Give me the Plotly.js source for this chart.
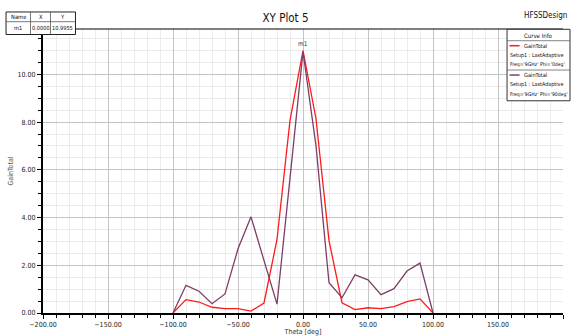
<!DOCTYPE html>
<html><head><meta charset="utf-8">
<script src="https://cdn.plot.ly/plotly-3.0.1.min.js"></script>
<style>html,body{margin:0;padding:0;background:#fff;}#chart{width:571px;height:336px;}</style>
</head><body><div id="chart"></div>
<script>
// ---- data ----
var theta = [-100,-90,-80,-70,-60,-50,-40,-30,-20,-10,0,10,20,30,40,50,60,70,80,90,100];
var gainPhi0 = [0,0.56,0.46,0.24,0.18,0.18,0.08,0.42,3.08,8.07,10.9955,8.14,3.03,0.43,0.14,0.22,0.18,0.27,0.48,0.59,0];
var gainPhi90 = [0,1.16,0.91,0.39,0.80,2.69,4.03,2.16,0.37,5.65,10.95,7.0,1.27,0.64,1.60,1.39,0.77,1.02,1.76,2.09,0];
var seriesNames = ["GainTotal","GainTotal"];
var seriesSetup = ["Setup1 : LastAdaptive","Setup1 : LastAdaptive"];
var seriesFreq = ["Freq='9GHz' Phi='0deg'","Freq='9GHz' Phi='90deg'"];
var seriesColors = ["#ff1a1a","#7d3f69"];
var markerName = "m1", markerX = 0.0000, markerY = 10.9955;
var tableHeader = ["Name","X","Y"];

// ---- layout helpers ----
var W=571,H=336, L=42.5, R=563, T=29, B=312.7;
function px(x){return (x-L)/(R-L);}
function py(y){return (B-y)/(B-T);}
var FONT = "Liberation Sans Narrow, Arial Narrow, DejaVu Sans Condensed, Liberation Sans, Arial, sans-serif";

var traces = [
  {x:theta,y:gainPhi0,type:'scatter',mode:'lines',name:seriesNames[0],line:{color:seriesColors[0],width:1.3},showlegend:false},
  {x:theta,y:gainPhi90,type:'scatter',mode:'lines',name:seriesNames[1],line:{color:seriesColors[1],width:1.3},showlegend:false}
];

var shapes = [], ann = [];
shapes.push({type:'line',xref:'paper',yref:'paper',x0:0,x1:1,y0:1,y1:1,line:{color:'#000',width:1}});
// marker table
var tx=[5.5,30,50,75], ty=[12,21.7,34.5];
shapes.push({type:'rect',xref:'paper',yref:'paper',x0:px(tx[0]),x1:px(tx[3]),y0:py(ty[0]),y1:py(ty[2]),line:{color:'#222',width:1},fillcolor:'#fff',layer:'above'});
shapes.push({type:'line',xref:'paper',yref:'paper',x0:px(tx[0]),x1:px(tx[3]),y0:py(ty[1]),y1:py(ty[1]),line:{color:'#555',width:0.8},layer:'above'});
[1,2].forEach(function(i){shapes.push({type:'line',xref:'paper',yref:'paper',x0:px(tx[i]),x1:px(tx[i]),y0:py(ty[0]),y1:py(ty[2]),line:{color:'#555',width:0.8},layer:'above'});});
var rowVals=[markerName, markerX.toFixed(4), markerY.toFixed(4)];
for(var i=0;i<3;i++){
  var cx=(tx[i]+tx[i+1])/2;
  ann.push({xref:'paper',yref:'paper',x:px(cx),y:py((ty[0]+ty[1])/2),text:tableHeader[i],showarrow:false,font:{family:FONT,size:5.8,color:'#111'},xanchor:'center',yanchor:'middle'});
  ann.push({xref:'paper',yref:'paper',x:px(cx),y:py((ty[1]+ty[2])/2),text:rowVals[i],showarrow:false,font:{family:FONT,size:5.6,color:'#111'},xanchor:'center',yanchor:'middle'});
}
// marker label
ann.push({x:markerX,y:markerY,xref:'x',yref:'y',text:markerName,showarrow:false,yshift:7,font:{family:FONT,size:6.5,color:'#333'}});
// HFSSDesign
ann.push({xref:'paper',yref:'paper',x:px(569),y:py(16),text:'HFSSDesign',showarrow:false,xanchor:'right',yanchor:'middle',font:{family:FONT,size:8,color:'#111'}});
// custom legend box
var lx0=507,lx1=570,ly=[29.3,40.7,70,100.7];
shapes.push({type:'rect',xref:'paper',yref:'paper',x0:px(lx0),x1:px(lx1),y0:py(ly[0]),y1:py(ly[3]),line:{color:'#333',width:1},fillcolor:'#fff',layer:'above'});
shapes.push({type:'line',xref:'paper',yref:'paper',x0:px(lx0),x1:px(lx1),y0:py(ly[1]),y1:py(ly[1]),line:{color:'#666',width:0.8},layer:'above'});
shapes.push({type:'line',xref:'paper',yref:'paper',x0:px(lx0),x1:px(lx1),y0:py(ly[2]),y1:py(ly[2]),line:{color:'#666',width:0.8},layer:'above'});
ann.push({xref:'paper',yref:'paper',x:px((lx0+lx1)/2),y:py(35),text:'Curve Info',showarrow:false,xanchor:'center',yanchor:'middle',font:{family:FONT,size:6,color:'#111'}});
for(var k=0;k<2;k++){
  var rowTop=ly[k+1];
  shapes.push({type:'line',xref:'paper',yref:'paper',x0:px(509.5),x1:px(519.5),y0:py(rowTop+5),y1:py(rowTop+5),line:{color:seriesColors[k],width:1.5},layer:'above'});
  ann.push({xref:'paper',yref:'paper',x:px(522),y:py(rowTop+5),text:seriesNames[k],showarrow:false,xanchor:'left',yanchor:'middle',font:{family:FONT,size:5.6,color:'#111'}});
  ann.push({xref:'paper',yref:'paper',x:px(507.5),y:py(rowTop+14.5),text:seriesSetup[k],showarrow:false,xanchor:'left',yanchor:'middle',font:{family:FONT,size:5.4,color:'#111'}});
  ann.push({xref:'paper',yref:'paper',x:px(507.5),y:py(rowTop+24),text:seriesFreq[k],showarrow:false,xanchor:'left',yanchor:'middle',font:{family:FONT,size:5.1,color:'#111'}});
}

var layout = {
  width:W,height:H,
  margin:{l:L,r:W-R,t:T,b:H-B,pad:0},
  paper_bgcolor:'#fff',plot_bgcolor:'#fff',
  font:{family:FONT,size:7,color:'#222'},
  title:{text:'XY Plot 5',x:px((L+R)/2),xanchor:'center',y:1-18/H,yanchor:'middle',font:{family:FONT,size:11.5,color:'#111'}},
  showlegend:false,
  xaxis:{range:[-200,200],dtick:50,tick0:0,tickformat:'.2f',
    showline:true,linecolor:'#000',linewidth:2,zeroline:false,
    ticks:'outside',ticklen:4,tickcolor:'#000',tickwidth:1,
    showgrid:true,gridcolor:'#c4c4c4',gridwidth:1,
    minor:{dtick:10,ticks:'outside',ticklen:3,tickcolor:'#000',showgrid:true,gridcolor:'#ebebeb',gridwidth:1},
    tickfont:{family:FONT,size:7,color:'#222'},
    title:{text:'Theta [deg]',standoff:0,font:{family:FONT,size:7,color:'#333'}}},
  yaxis:{range:[0,11.9],dtick:2,tick0:0,tickformat:'.2f',
    showline:true,linecolor:'#000',linewidth:2,zeroline:false,
    ticks:'outside',ticklen:4,tickcolor:'#000',tickwidth:1,
    showgrid:true,gridcolor:'#c4c4c4',gridwidth:1,
    minor:{dtick:0.5,ticks:'outside',ticklen:3,tickcolor:'#000',showgrid:true,gridcolor:'#ebebeb',gridwidth:1},
    tickfont:{family:FONT,size:7,color:'#222'},
    title:{text:'GainTotal',standoff:3,font:{family:FONT,size:7,color:'#555'}}},
  shapes:shapes, annotations:ann
};
Plotly.newPlot('chart',traces,layout,{staticPlot:true,displayModeBar:false});
</script></body></html>
